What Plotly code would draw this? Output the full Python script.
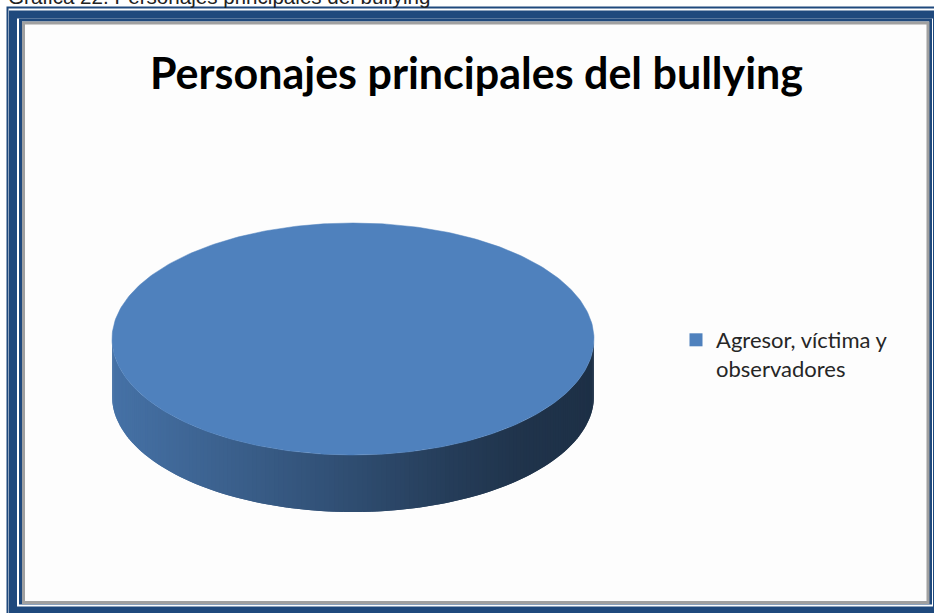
import numpy as np
import plotly.graph_objects as go

# ---- data ----
categories = ["Agresor, víctima y observadores"]
values = [100]
legend_labels = ["Agresor, víctima y<br>observadores"]
slice_colors = ["#4f81bd"]
title_text = "Personajes principales del bullying"
caption_text = "Gráfica 22. Personajes principales del bullying"

# ---- layout geometry (pixels) ----
W, H = 934, 613
CX, CY, RX, RY, DEPTH = 353, 339, 241, 116, 57
BORDER = "#1f497d"

# shading of the side wall as a function of x (fraction of slice colour)
shade_x = [112, 250, 350, 450, 520, 594]
shade_f = [0.88, 0.72, 0.60, 0.47, 0.40, 0.37]


def hex_rgb(h):
    h = h.lstrip("#")
    return tuple(int(h[i:i + 2], 16) for i in (0, 2, 4))


def shaded(color, x):
    f = float(np.interp(x, shade_x, shade_f))
    r, g, b = hex_rgb(color)
    return "rgb(%d,%d,%d)" % (round(r * f), round(g * f), round(b * f))


fig = go.Figure()

total = float(sum(values))
bounds = np.concatenate([[0.0], np.cumsum(values) / total]) * 2 * np.pi - np.pi / 2


def slice_at(angle):
    a = (angle + np.pi / 2) % (2 * np.pi) - np.pi / 2
    for i in range(len(values)):
        if bounds[i] <= a < bounds[i + 1] or (i == len(values) - 1 and a >= bounds[i]):
            return i
    return len(values) - 1


# side wall (front half of the ellipse), drawn as overlapping shaded strips
N = 160
edges = np.linspace(0, np.pi, N + 1)
for k in range(N):
    a, b = edges[k], edges[min(k + 2, N)]
    t = np.linspace(a, b, 5)
    xs_top = CX + RX * np.cos(t)
    ys_top = CY + RY * np.sin(t)
    xs = np.concatenate([xs_top, xs_top[::-1]])
    ys = np.concatenate([ys_top, ys_top[::-1] + DEPTH])
    mid = (edges[k] + edges[k + 1]) / 2
    idx = slice_at(mid)
    col = shaded(slice_colors[idx], CX + RX * np.cos(mid))
    fig.add_trace(go.Scatter(x=xs, y=ys, mode="lines", fill="toself",
                             fillcolor=col, line=dict(width=0),
                             hoverinfo="skip", showlegend=False))

# top faces of the slices
for i, (cat, v) in enumerate(zip(categories, values)):
    t = np.linspace(bounds[i], bounds[i + 1], 361)
    xs = CX + RX * np.cos(t)
    ys = CY + RY * np.sin(t)
    if v < total:
        xs = np.concatenate([[CX], xs, [CX]])
        ys = np.concatenate([[CY], ys, [CY]])
    fig.add_trace(go.Scatter(x=xs, y=ys, mode="lines", fill="toself",
                             fillcolor=slice_colors[i],
                             line=dict(color=slice_colors[i], width=0.5),
                             name=cat, hoverinfo="name", showlegend=False))

# legend entries
for i, lab in enumerate(legend_labels):
    fig.add_trace(go.Scatter(x=[-100], y=[-100], mode="markers",
                             marker=dict(symbol="square", size=13, color=slice_colors[i]),
                             name=lab, showlegend=True))

shapes = [
    dict(type="rect", x0=22, y0=21, x1=929, y1=604, fillcolor="#fdfdfd",
         line=dict(width=0), layer="below"),
    dict(type="rect", x0=7.5, y0=7.5, x1=W + 10, y1=H + 10,
         line=dict(color=BORDER, width=2)),
    dict(type="rect", x0=13, y0=14.5, x1=937, y1=610.5,
         line=dict(color=BORDER, width=8)),
    dict(type="rect", x0=20.5, y0=20, x1=930.5, y1=603,
         line=dict(color=BORDER, width=3)),
    dict(type="rect", x0=23.5, y0=23, x1=928, y1=602.5,
         line=dict(color="#a0a0a0", width=3)),
]

annotations = [
    dict(x=476.5, y=72, xref="x", yref="y", text="<b>" + title_text + "</b>",
         showarrow=False, xanchor="center", yanchor="middle",
         font=dict(family="Lato", size=43, color="#000000")),
    dict(x=6 / W, y=1 + 3.5 / H, xref="paper", yref="paper", text=caption_text,
         showarrow=False, xanchor="left", yanchor="middle",
         font=dict(family="Liberation Sans", size=20.6, color="#222222")),
]

fig.update_layout(
    width=W, height=H, margin=dict(l=0, r=0, t=0, b=0),
    paper_bgcolor="white", plot_bgcolor="rgba(0,0,0,0)",
    xaxis=dict(range=[0, W], visible=False, fixedrange=True, domain=[0, 1]),
    yaxis=dict(range=[H, 0], visible=False, fixedrange=True, domain=[0, 1]),
    shapes=shapes, annotations=annotations,
    legend=dict(x=676 / W, y=1 - 319 / H, xanchor="left", yanchor="top",
                valign="top", bgcolor="rgba(0,0,0,0)", borderwidth=0,
                itemwidth=30,
                font=dict(family="Lato", size=22, color="#262626")),
    showlegend=True,
)

fig.write_html("out.html", config={"displayModeBar": False},
               post_script="document.body.style.margin='0';")
